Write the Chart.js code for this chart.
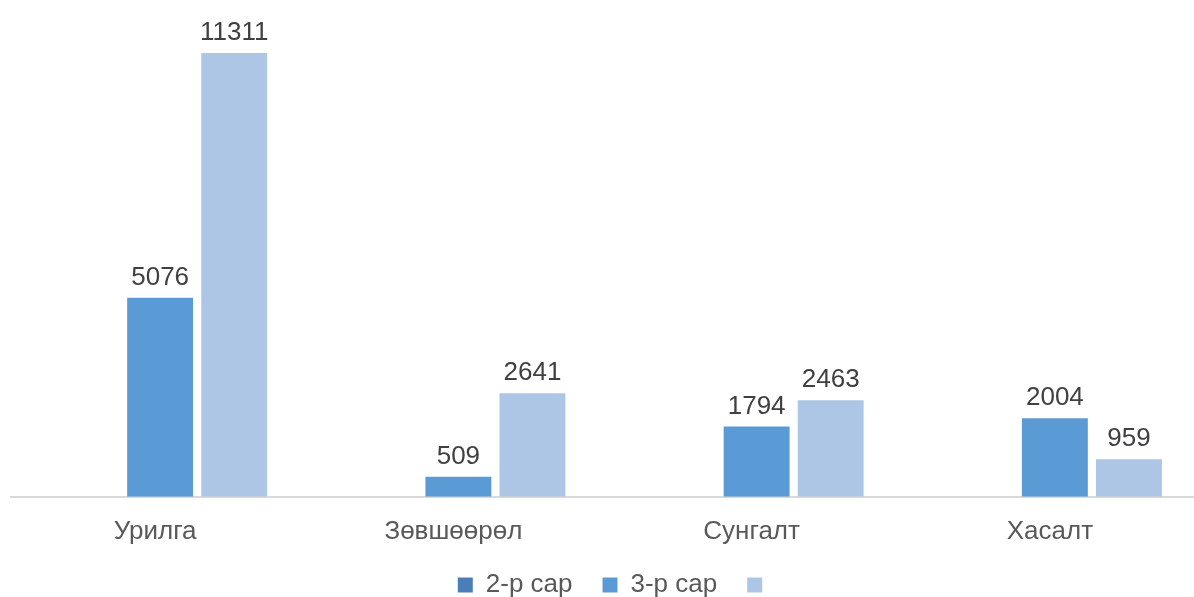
<!DOCTYPE html>
<html lang="mn">
<head>
    <meta charset="UTF-8">
    <title>Урилга, Зөвшөөрөл, Сунгалт, Хасалт</title>
    <script src="https://cdn.jsdelivr.net/npm/chart.js"></script>
    <style>
        body { margin: 0; background: #fff; }
        /* the original plot runs past the right edge, so the canvas is a bit bigger and cropped */
        #wrap { width: 1194px; height: 597px; overflow: hidden; }
    </style>
</head>
<body>
    <div id="wrap"><canvas id="barChart" width="1238" height="632"></canvas></div>

    <script>
        const categories = ['Урилга', 'Зөвшөөрөл', 'Сунгалт', 'Хасалт'];
        const seriesNames = ['2-р сар', '3-р сар', ''];
        const febValues = [null, null, null, null];
        const marValues = [5076, 509, 1794, 2004];
        const thirdValues = [11311, 2641, 2463, 959];

        const fontFamily = '"Liberation Sans", Arial, sans-serif';

        // value labels above the bars
        const valueLabels = {
            id: 'valueLabels',
            afterDatasetsDraw(chart) {
                const ctx = chart.ctx;
                ctx.save();
                ctx.font = '26px ' + fontFamily;
                ctx.fillStyle = '#404040';
                ctx.textAlign = 'center';
                ctx.textBaseline = 'bottom';
                chart.data.datasets.forEach((ds, i) => {
                    const meta = chart.getDatasetMeta(i);
                    meta.data.forEach((bar, j) => {
                        const v = ds.data[j];
                        if (v === null || v === undefined) return;
                        ctx.fillText(String(v), bar.x, bar.y - 7);
                    });
                });
                ctx.restore();
            }
        };

        // legend sits closer to the axis labels than chart.js would put it
        const legendNudge = {
            id: 'legendNudge',
            afterLayout(chart) {
                const lg = chart.legend;
                if (!lg) return;
                lg.top -= 24;
                lg.bottom -= 24;
                lg.left += 9;
                lg.right += 9;
            }
        };

        const ctx = document.getElementById('barChart').getContext('2d');
        new Chart(ctx, {
            type: 'bar',
            data: {
                labels: categories,
                datasets: [
                    { label: seriesNames[0], data: febValues, backgroundColor: '#4A7EBB' },
                    { label: seriesNames[1], data: marValues, backgroundColor: '#5B9BD5' },
                    { label: seriesNames[2], data: thirdValues, backgroundColor: '#ADC6E6' }
                ]
            },
            options: {
                responsive: false,
                animation: false,
                datasets: {
                    bar: { barPercentage: 0.89, categoryPercentage: 0.745 }
                },
                layout: { padding: { left: 11, right: 34, top: 26, bottom: 0 } },
                scales: {
                    x: {
                        grid: { display: false, drawTicks: false },
                        border: { color: '#D9D9D9', width: 2 },
                        ticks: {
                            color: '#595959',
                            font: { family: fontFamily, size: 26 },
                            padding: 19,
                            labelOffset: -5
                        }
                    },
                    y: {
                        display: false,
                        min: 0,
                        max: 12000
                    }
                },
                plugins: {
                    legend: {
                        position: 'bottom',
                        labels: {
                            color: '#595959',
                            font: { family: fontFamily, size: 26 },
                            boxWidth: 15,
                            boxHeight: 15,
                            padding: 30
                        }
                    },
                    tooltip: { enabled: false }
                }
            },
            plugins: [valueLabels, legendNudge]
        });
    </script>
</body>
</html>
